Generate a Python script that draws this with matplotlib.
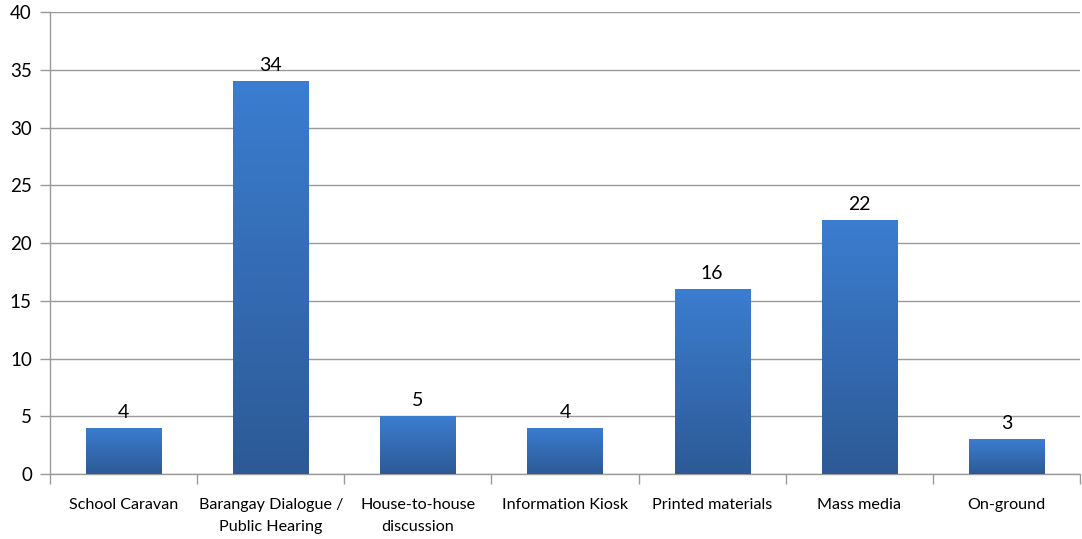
import numpy as np
import matplotlib.pyplot as plt
from matplotlib.colors import LinearSegmentedColormap
from matplotlib.patches import Rectangle

plt.rcParams['font.family'] = ['Lato', 'DejaVu Sans']

categories = ['School Caravan', 'Barangay Dialogue /\nPublic Hearing', 'House-to-house\ndiscussion',
              'Information Kiosk', 'Printed materials', 'Mass media', 'On-ground']
values = [4, 34, 5, 4, 16, 22, 3]

fig = plt.figure(figsize=(10.82, 5.39), dpi=100)
ax = fig.add_axes([0.0462, 0.1206, 0.952, 0.857])

x = np.arange(len(categories))
bars = ax.bar(x, values, width=0.51, color='none', zorder=3)

# vertical gradient inside each bar, light at the top, dark at the bottom
cmap = LinearSegmentedColormap.from_list('bluegrad', ['#2d5a96', '#3b7dd0'])
grad = np.linspace(0, 1, 256).reshape(-1, 1)
for b in bars:
    x0, w, h = b.get_x(), b.get_width(), b.get_height()
    im = ax.imshow(grad, extent=[x0, x0 + w, 0, h], origin='lower', cmap=cmap,
                   aspect='auto', zorder=3)
    im.set_clip_path(Rectangle((x0, 0), w, h, transform=ax.transData))
    ax.text(x0 + w / 2, h + 0.6, str(int(h)), ha='center', va='bottom', fontsize=14, zorder=4)

ax.set_xlim(-0.5, len(categories) - 0.5)
ax.set_ylim(0, 40)
ax.set_yticks(range(0, 41, 5))
ax.yaxis.grid(True, color='#9a9a9a', linewidth=1)
ax.set_axisbelow(True)

ax.set_xticks(x)
ax.set_xticklabels(categories, fontsize=11.6, linespacing=1.8)
ax.tick_params(axis='x', length=0, pad=17)
ax.set_xticks(np.arange(-0.5, len(categories)), minor=True)
ax.tick_params(axis='x', which='minor', length=7, color='#9a9a9a', width=1)
ax.tick_params(axis='y', length=7, color='#9a9a9a', width=1, labelsize=13.5, pad=6)

for side in ['top', 'right']:
    ax.spines[side].set_visible(False)
for side in ['left', 'bottom']:
    ax.spines[side].set_color('#9a9a9a')
    ax.spines[side].set_linewidth(1)

fig.savefig('out.png', dpi=100)
